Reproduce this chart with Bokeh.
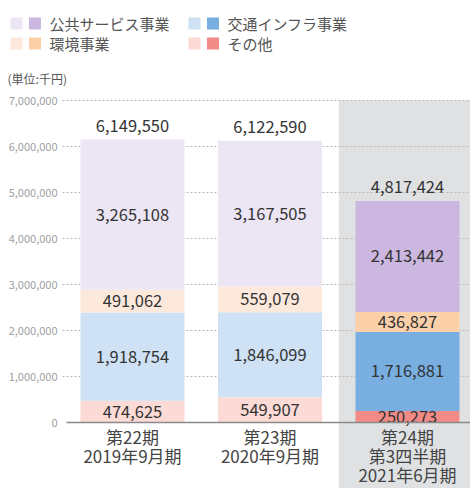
from bokeh.plotting import figure
from bokeh.models import Range1d
from bokeh.core.properties import value
from bokeh.embed import file_html
from bokeh.resources import INLINE

# ---------------- data ----------------
categories = ["第22期\n2019年9月期", "第23期\n2020年9月期", "第24期\n第3四半期\n2021年6月期"]
series_names = ["その他", "交通インフラ事業", "環境事業", "公共サービス事業"]  # bottom -> top
other = [474625, 549907, 250273]
transport = [1918754, 1846099, 1716881]
environment = [491062, 559079, 436827]
public = [3265108, 3167505, 2413442]
totals = [6149550, 6122590, 4817424]
highlighted = [False, False, True]
y_ticks = [0, 1000000, 2000000, 3000000, 4000000, 5000000, 6000000, 7000000]
unit_label = "(単位:千円)"
legend_order = ["公共サービス事業", "交通インフラ事業", "環境事業", "その他"]

light_colors = {"公共サービス事業": "#ece5f4", "交通インフラ事業": "#cfe1f4",
                "環境事業": "#fde9dc", "その他": "#fcdad6"}
dark_colors = {"公共サービス事業": "#cbb7df", "交通インフラ事業": "#78afe0",
               "環境事業": "#fcd1aa", "その他": "#f28b88"}

FONT = value("Noto Sans CJK JP")

# ---------------- geometry (pixels) ----------------
W, H = 470, 488
ZERO_PX = 422          # canvas y of value 0
FIRST_CAT_PX = 132     # canvas x of first category centre
PX_PER_UNIT_Y = 46 / 1e6
PX_PER_CAT = 137.5
GRID_LEFT_PX = 62


def px_x(px):
    return (px - FIRST_CAT_PX) / PX_PER_CAT


def px_y(py):
    return (ZERO_PX - py) / PX_PER_UNIT_Y


x0, x1 = px_x(0), px_x(W)
y0, y1 = px_y(H), px_y(0)

p = figure(width=W, height=H, x_range=Range1d(x0, x1), y_range=Range1d(y0, y1),
           output_backend="svg", toolbar_location=None, min_border=0)
p.outline_line_color = None
p.axis.visible = False
p.grid.visible = False

# grey highlight panel behind the latest period
hi_idx = highlighted.index(True)
p.quad(left=[hi_idx - 0.5], right=[x1], bottom=[y0], top=[max(y_ticks)],
       fill_color="#dfe1e3", line_color=None)

# value axis: dotted grid lines + tick labels
grid_ticks = [t for t in y_ticks if t > 0]
p.segment(x0=[px_x(GRID_LEFT_PX)] * len(grid_ticks), x1=[x1] * len(grid_ticks),
          y0=grid_ticks, y1=grid_ticks, line_color="#b8b8b8", line_dash="2 2", line_width=1)
p.text(x=[px_x(GRID_LEFT_PX - 5)] * len(y_ticks), y=y_ticks,
       text=[f"{t:,}" for t in y_ticks], text_font=FONT, text_font_size="11px",
       text_color="#a0a0a0", text_align="right", text_baseline="middle")

xs = list(range(len(categories)))
stacks = [other, transport, environment, public]
bottoms = [0] * len(xs)
bar_w = 104 / PX_PER_CAT
for name, vals in zip(series_names, stacks):
    tops = [b + v for b, v in zip(bottoms, vals)]
    colors = [dark_colors[name] if h else light_colors[name] for h in highlighted]
    p.vbar(x=xs, bottom=bottoms, top=tops, width=bar_w, fill_color=colors, line_color=None)
    mids = [(b + t) / 2 for b, t in zip(bottoms, tops)]
    p.text(x=xs, y=mids, text=[f"{v:,}" for v in vals], text_font=FONT,
           text_font_size="16.5px", text_color="#333333", text_align="center",
           text_baseline="middle")
    bottoms = tops

# totals
p.text(x=xs, y=[t + 14 / PX_PER_UNIT_Y for t in totals], text=[f"{t:,}" for t in totals],
       text_font=FONT, text_font_size="16.5px", text_color="#333333",
       text_align="center", text_baseline="middle")

# baseline (value 0)
p.segment(x0=[px_x(66)], x1=[x1], y0=[0], y1=[0], line_color="#8a8a8a", line_width=1.5)

# category labels (multi-line, drawn line by line)
lx, ly, lt = [], [], []
for i, c in enumerate(categories):
    for j, line in enumerate(c.split("\n")):
        lx.append(i)
        ly.append(-(14 + j * 19) / PX_PER_UNIT_Y)
        lt.append(line)
p.text(x=lx, y=ly, text=lt, text_font=FONT, text_font_size="17px", text_color="#444444",
       text_align="center", text_baseline="middle")

# ---------------- legend ----------------
col_x = [10, 188]
row_y = [23, 43]
for i, name in enumerate(legend_order):
    cx = col_x[i % 2]
    cy = row_y[i // 2]
    for dx, col in ((0, light_colors[name]), (18.5, dark_colors[name])):
        p.quad(left=[px_x(cx + dx)], right=[px_x(cx + dx + 12)],
               top=[px_y(cy - 6)], bottom=[px_y(cy + 6)],
               fill_color=col, line_color=None)
    p.text(x=[px_x(cx + 39)], y=[px_y(cy)], text=[name], text_font=FONT,
           text_font_size="15px", text_color="#555555",
           text_baseline="middle", text_align="left")

p.text(x=[px_x(7)], y=[px_y(78)], text=[unit_label], text_font=FONT,
       text_font_size="12px", text_color="#555555",
       text_baseline="middle", text_align="left")

open("out.html", "w").write(file_html(p, INLINE))
